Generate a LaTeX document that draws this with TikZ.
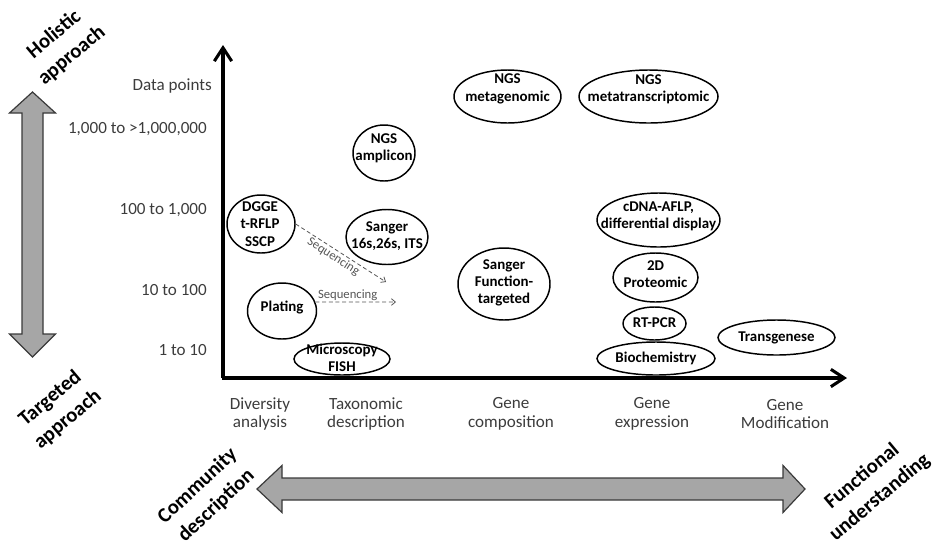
\documentclass[tikz,border=0pt]{standalone}
\usepackage{fontspec}
\setmainfont{Carlito}
\usetikzlibrary{shapes.geometric,arrows.meta}
\definecolor{labgray}{HTML}{3C3C3C}
\definecolor{seqgray}{HTML}{555555}
\definecolor{fillgray}{HTML}{A6A6A6}
\definecolor{edgegray}{HTML}{3A3A3A}
\begin{document}
\begin{tikzpicture}[x=0.75pt,y=-0.75pt,
  oval/.style 2 args={ellipse, draw=black, line width=1.1pt, minimum width=#1*0.75pt, minimum height=#2*0.75pt, inner sep=0pt},
  otext/.style={font=\fontsize{11.2}{13}\selectfont\bfseries, align=center, inner sep=0pt},
  axlab/.style={font=\fontsize{12.8}{13.8}\selectfont, text=labgray, inner sep=0pt},
  xlab/.style={axlab, align=center},
  bigtext/.style={font=\fontsize{15.5}{20.5}\selectfont\bfseries, align=center, inner sep=0pt},
  axisline/.style={line width=2.3pt, -{Straight Barb[length=10pt,width=13pt]}},
  bigarrow/.style={fill=fillgray, draw=edgegray, line width=0.9pt, line join=miter},
  seqarrow/.style={draw=seqgray, dashed, dash pattern=on 3pt off 2pt, line width=0.6pt, -{Straight Barb[length=3pt,width=5pt]}},
  seqtext/.style={font=\fontsize{9.5}{11}\selectfont, text=seqgray, inner sep=1pt}
]
\path[use as bounding box] (0,0) rectangle (938,547);

% axes
\coordinate (origin) at (223,378);
\coordinate (ytop) at (223,45);
\coordinate (xend) at (847,378);
\draw[axisline] (origin) -- (ytop);
\draw[axisline] ([xshift=-0.86pt]origin) -- (xend);

% y labels
\node[axlab, anchor=east] (ydata) at (212,86) {Data points};
\node[axlab, anchor=east] (y1) at (207,129) {1,000 to >1,000,000};
\node[axlab, anchor=east] (y2) at (207,210) {100 to 1,000};
\node[axlab, anchor=east] (y3) at (207,290) {10 to 100};
\node[axlab, anchor=east] (y4) at (207,350) {1 to 10};

% x labels
\node[xlab] (x1) at (260,414) {Diversity\\analysis};
\node[xlab] (x2) at (366,414) {Taxonomic\\description};
\node[xlab] (x3) at (511,414) {Gene\\composition};
\node[xlab] (x4) at (652,414) {Gene\\expression};
\node[xlab] (x5) at (785,414) {Gene\\Modification};

% big gray double arrows
\draw[bigarrow] (32.5,92) -- (55.5,113) -- (43,113) -- (43,334) -- (55.5,334) -- (32.5,357)
  -- (9.5,334) -- (22,334) -- (22,113) -- (9.5,113) -- cycle;
\draw[bigarrow] (257,489) -- (282,465.5) -- (282,478) -- (783,478) -- (783,465.5) -- (805,489)
  -- (783,512.5) -- (783,500) -- (282,500) -- (282,512.5) -- cycle;

% rotated labels
\node[bigtext, rotate=40] (holistic) at (63,45) {Holistic\\approach};
\node[bigtext, rotate=40] (targeted) at (59,409) {Targeted\\approach};
\node[bigtext, rotate=43] (community) at (207,496) {Community\\description};
\node[bigtext, rotate=40] (functional) at (871,487) {Functional\\understanding};

% ellipses
\node[oval={68}{58}] (dgge) at (261,224) {};
\node[otext] (dggeT) at (260,224) {DGGE\\t-RFLP\\SSCP};
\node[oval={62}{56}] (ampl) at (384,153) {};
\node[otext] (amplT) at (384,148) {NGS\\amplicon};
\node[oval={82}{55}] (sang) at (387,237) {};
\node[otext] (sangT) at (387,236) {Sanger\\16s,26s, ITS};
\node[oval={69}{56}] (plating) at (282,311) {};
\node[otext] (platingT) at (282,308) {Plating};
\node[oval={96}{32}] (micro) at (342,359) {};
\node[otext] (microT) at (342,358) {Microscopy\\FISH};
\node[oval={107}{53}] (metag) at (507.5,96.5) {};
\node[otext] (metagT) at (507.5,89) {NGS\\metagenomic};
\node[oval={139}{53}] (metat) at (648.5,96.5) {};
\node[otext] (metatT) at (648.5,89) {NGS\\metatranscriptomic};
\node[oval={123}{54}] (cdna) at (658.5,220) {};
\node[otext] (cdnaT) at (658.5,216) {cDNA-AFLP,\\differential display};
\node[oval={92}{72}] (sangf) at (504,284) {};
\node[otext] (sangfT) at (504,283) {Sanger\\Function-\\targeted};
\node[oval={85}{49}] (prot) at (655.5,277.5) {};
\node[otext] (protT) at (655.5,274) {2D\\Proteomic};
\node[oval={63}{33}] (rtpcr) at (654.5,323.5) {};
\node[otext] (rtpcrT) at (654.5,323) {RT-PCR};
\node[oval={118}{33}] (bio) at (656,358.5) {};
\node[otext] (bioT) at (656,358) {Biochemistry};
\node[oval={117}{35}] (trans) at (776.5,337.5) {};
\node[otext] (transT) at (776.5,338) {Transgenese};

% sequencing arrows
\coordinate (s1) at (386,282);
\coordinate (s2) at (396,302);
\draw[seqarrow] (dgge.east) -- node[seqtext, sloped, below, pos=0.46] (seq1) {Sequencing} (s1);
\draw[seqarrow] (plating.15) -- node[seqtext, above, pos=0.4] (seq2) {Sequencing} (s2);
\end{tikzpicture}
\end{document}
